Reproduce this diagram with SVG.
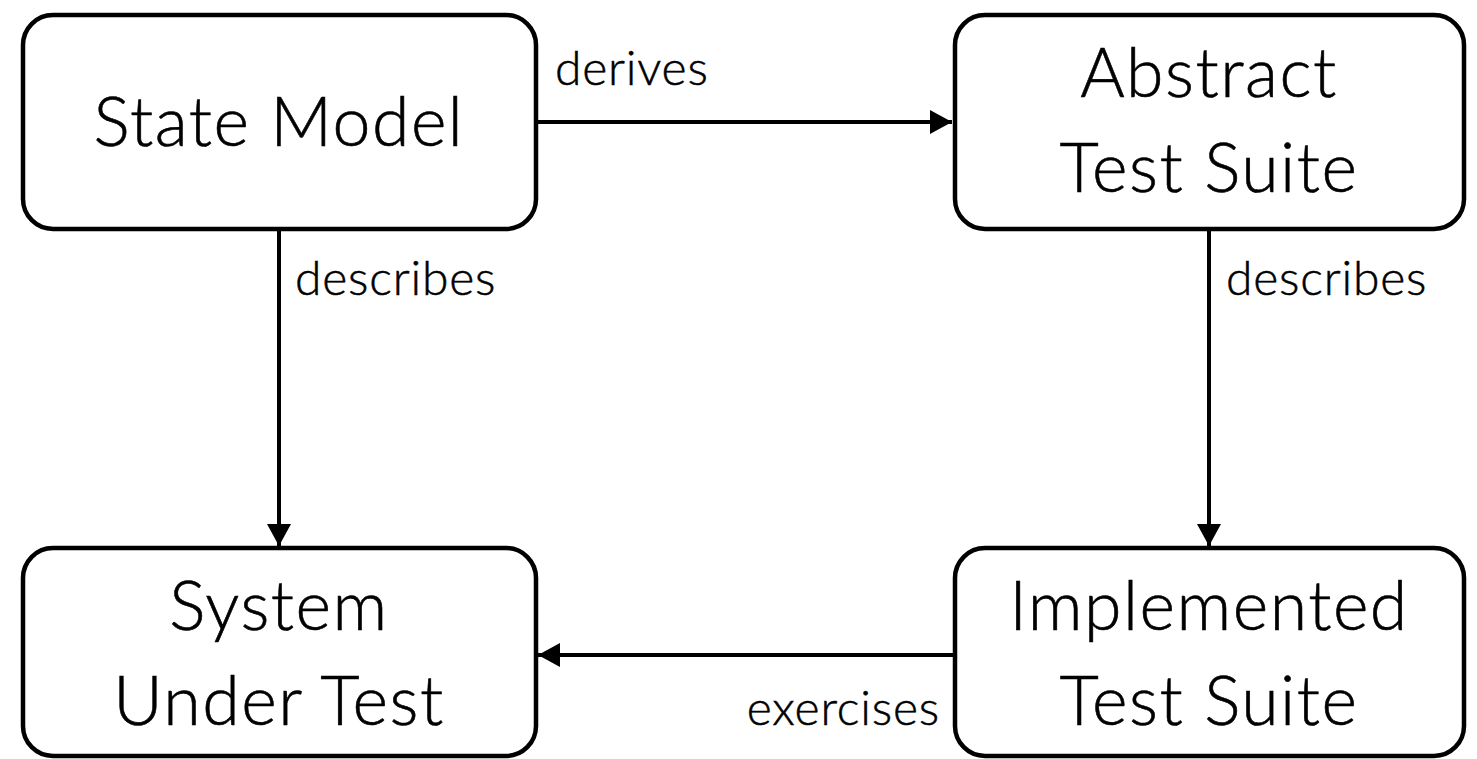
<svg xmlns="http://www.w3.org/2000/svg" width="1477" height="759" viewBox="0 0 1477 759">
  <style>
    .box { fill: #ffffff; stroke: #000000; stroke-width: 4.5; }
    .node-text { font-family: Lato, "Open Sans", "Liberation Sans", sans-serif; font-weight: 300; font-size: 68px; letter-spacing: 1.5px; fill: #000000; stroke: #000000; stroke-width: 0.6px; text-anchor: middle; }
    .edge { fill: none; stroke: #000000; stroke-width: 4; }
    .edge-label { font-family: Lato, "Open Sans", "Liberation Sans", sans-serif; font-weight: 300; font-size: 48px; letter-spacing: 0.8px; fill: #000000; stroke: #000000; stroke-width: 0.5px; }
  </style>
  <defs>
    <marker id="arrow" viewBox="0 0 22 24" refX="22" refY="12" markerWidth="22" markerHeight="24" markerUnits="userSpaceOnUse" orient="auto">
      <path d="M0,0 L22,12 L0,24 Z" fill="#000000"/>
    </marker>
  </defs>
  <rect width="1477" height="759" fill="#ffffff"/>

  <g id="connectors">
    <line class="edge" x1="537" y1="122" x2="952" y2="122" marker-end="url(#arrow)"/>
    <text class="edge-label" x="555" y="85">derives</text>
    <line class="edge" x1="279" y1="231" x2="279" y2="546" marker-end="url(#arrow)"/>
    <text class="edge-label" x="295" y="295">describes</text>
    <line class="edge" x1="1209" y1="231" x2="1209" y2="546" marker-end="url(#arrow)"/>
    <text class="edge-label" x="1226" y="295">describes</text>
    <line class="edge" x1="953" y1="655" x2="538" y2="655" marker-end="url(#arrow)"/>
    <text class="edge-label" x="940" y="725" text-anchor="end">exercises</text>
  </g>

  <g id="state-model">
    <rect class="box" x="23" y="15" width="513" height="214" rx="30" ry="30"/>
    <text class="node-text" x="279" y="146">State Model</text>
  </g>

  <g id="abstract-test-suite">
    <rect class="box" x="955" y="15" width="509" height="214" rx="30" ry="30"/>
    <text class="node-text" x="1209" y="97">Abstract</text>
    <text class="node-text" x="1209" y="192">Test Suite</text>
  </g>

  <g id="system-under-test">
    <rect class="box" x="23" y="548" width="513" height="208" rx="30" ry="30"/>
    <text class="node-text" x="279" y="630">System</text>
    <text class="node-text" x="279" y="725">Under Test</text>
  </g>

  <g id="implemented-test-suite">
    <rect class="box" x="955" y="548" width="509" height="208" rx="30" ry="30"/>
    <text class="node-text" x="1209" y="630">Implemented</text>
    <text class="node-text" x="1209" y="725">Test Suite</text>
  </g>
</svg>
